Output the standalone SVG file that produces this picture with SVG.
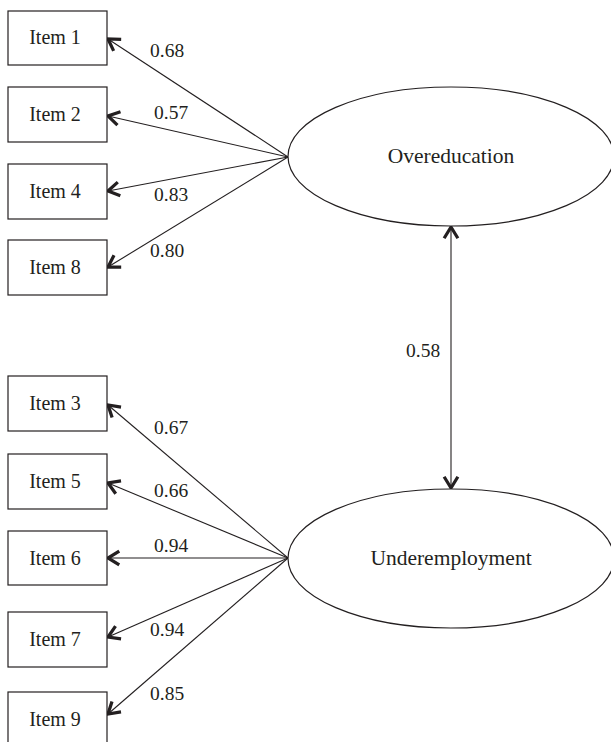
<svg xmlns="http://www.w3.org/2000/svg" width="611" height="742" viewBox="0 0 611 742">
<style>
.box{fill:#fff;stroke:#231f20;stroke-width:1.2}
.ell{fill:#fff;stroke:#231f20;stroke-width:1.2}
.t{font-family:"Liberation Serif","Times New Roman",serif;font-size:20px;fill:#231f20}
.c{text-anchor:middle}
.big{font-size:21.5px}
.ln{stroke:#231f20;stroke-width:1.1;fill:none;marker-end:url(#ah)}
.lbl{font-family:"Liberation Serif","Times New Roman",serif;font-size:19.5px;fill:#231f20}
</style>
<defs>
<marker id="ah" markerUnits="userSpaceOnUse" markerWidth="20" markerHeight="20" viewBox="-12 -8 14 16" refX="0" refY="0" orient="auto-start-reverse">
<path d="M-9,-5.5 L0,0 L-9,5.5" fill="none" stroke="#231f20" stroke-width="2.6" stroke-linejoin="miter"/>
</marker>
</defs>
<rect width="611" height="742" fill="#fff"/>
<g id="connectors">
<line class="ln" x1="288" y1="157" x2="108" y2="39"/>
<line class="ln" x1="288" y1="157" x2="108" y2="116"/>
<line class="ln" x1="288" y1="157" x2="108" y2="191"/>
<line class="ln" x1="288" y1="157" x2="108" y2="267"/>
<line class="ln" x1="288" y1="558" x2="108" y2="405"/>
<line class="ln" x1="288" y1="558" x2="108" y2="483"/>
<line class="ln" x1="288" y1="558" x2="108" y2="558"/>
<line class="ln" x1="288" y1="558" x2="108" y2="637"/>
<line class="ln" x1="288" y1="558" x2="108" y2="714"/>
<line class="ln" x1="451" y1="227" x2="451" y2="488" style="marker-start:url(#ah)"/>
<text class="lbl" x="150" y="57">0.68</text>
<text class="lbl" x="154" y="119">0.57</text>
<text class="lbl" x="154" y="201">0.83</text>
<text class="lbl" x="150" y="257">0.80</text>
<text class="lbl" x="154" y="434">0.67</text>
<text class="lbl" x="154" y="497">0.66</text>
<text class="lbl" x="154" y="552">0.94</text>
<text class="lbl" x="150" y="636">0.94</text>
<text class="lbl" x="150" y="700">0.85</text>
<text class="lbl" x="406" y="357">0.58</text>
</g>
<g id="item1"><rect class="box" x="8" y="11" width="99" height="54"/><text class="t c" x="55" y="44">Item 1</text></g>
<g id="item2"><rect class="box" x="8" y="87" width="99" height="55"/><text class="t c" x="55" y="121">Item 2</text></g>
<g id="item4"><rect class="box" x="8" y="164" width="99" height="55"/><text class="t c" x="55" y="198">Item 4</text></g>
<g id="item8"><rect class="box" x="8" y="240" width="99" height="55"/><text class="t c" x="55" y="274">Item 8</text></g>
<g id="item3"><rect class="box" x="8" y="376" width="99" height="55"/><text class="t c" x="55" y="410">Item 3</text></g>
<g id="item5"><rect class="box" x="8" y="454" width="99" height="55"/><text class="t c" x="55" y="488">Item 5</text></g>
<g id="item6"><rect class="box" x="8" y="531" width="99" height="54"/><text class="t c" x="55" y="565">Item 6</text></g>
<g id="item7"><rect class="box" x="8" y="612" width="99" height="55"/><text class="t c" x="55" y="646">Item 7</text></g>
<g id="item9"><rect class="box" x="8" y="692" width="99" height="55"/><text class="t c" x="55" y="726">Item 9</text></g>
<g id="overeducation"><ellipse class="ell" cx="451" cy="156.5" rx="163" ry="69.5"/><text class="t c big" x="451" y="163">Overeducation</text></g>
<g id="underemployment"><ellipse class="ell" cx="451" cy="558.5" rx="163" ry="69.5"/><text class="t c big" x="451" y="565">Underemployment</text></g>
</svg>
